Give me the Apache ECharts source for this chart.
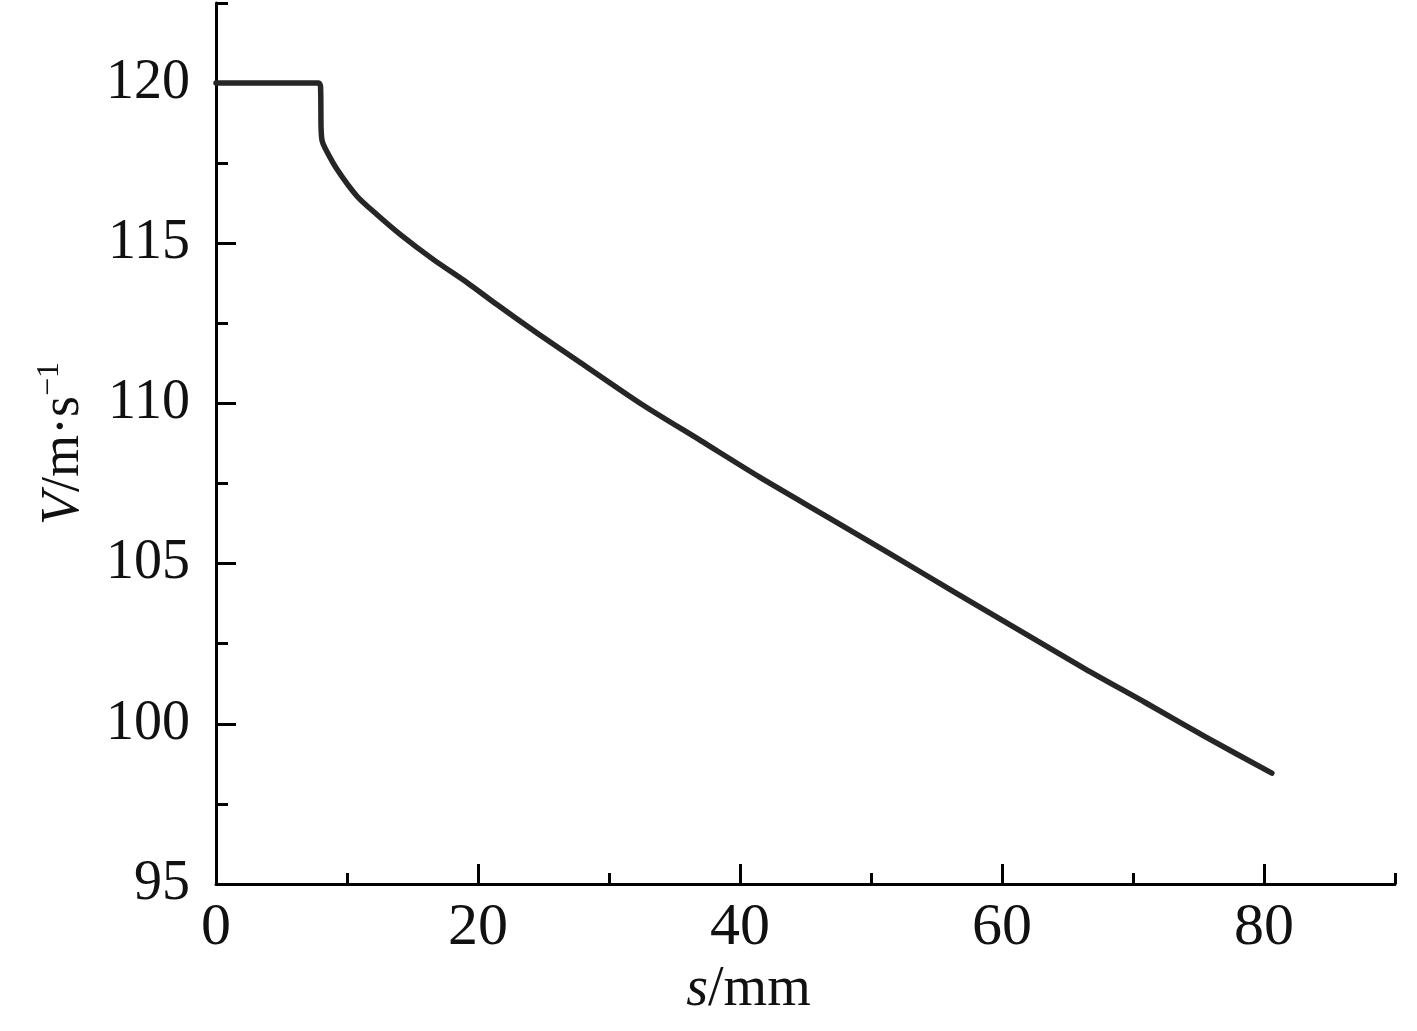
<!DOCTYPE html>
<html>
<head>
<meta charset="utf-8">
<script src="https://cdn.jsdelivr.net/npm/echarts@6/dist/echarts.min.js"></script>
<style>
html,body{margin:0;padding:0;background:#fff;}
#chart{width:1417px;height:1031px;}
</style>
</head>
<body>
<div id="chart"></div>
<script>
// s (mm)
const sValues = [0, 4, 7.85, 7.98, 8.02, 8.1, 8.35, 9.25, 10.78, 12.3, 14.08, 16.6, 19.18, 21.47, 24.5, 27.8, 32.4, 37.0, 41.5, 46.5, 51.5, 56.4, 61.4, 66.4, 71.0, 75.5, 80.6];
// V (m/s)
const vValues = [120, 120, 120, 119.9, 118.6, 118.2, 117.95, 117.3, 116.46, 115.89, 115.27, 114.49, 113.77, 113.08, 112.2, 111.28, 110.0, 108.84, 107.7, 106.5, 105.3, 104.1, 102.9, 101.7, 100.65, 99.6, 98.46];
const xMajorTicks = [0, 20, 40, 60, 80];
const yMajorTicks = [95, 100, 105, 110, 115, 120];

const data = sValues.map((s, i) => [s, vValues[i]]);
const FONT = '"Liberation Serif", "Times New Roman", serif';
const chart = echarts.init(document.getElementById('chart'));
chart.setOption({
  backgroundColor: '#ffffff',
  animation: false,
  grid: [
    {left: 216, right: 22, top: 3, bottom: 147},
    {left: 216, right: 153, top: 83, bottom: 147}
  ],
  xAxis: [
    {
      gridIndex: 0, type: 'value', min: 0, max: 90, interval: 10,
      axisLine: {show: true, onZero: false, lineStyle: {color: '#000', width: 3}},
      axisTick: {show: true, inside: true, length: 11, lineStyle: {color: '#000', width: 3}},
      axisLabel: {show: false}, splitLine: {show: false},
      name: '{i|s}/mm', nameLocation: 'middle', nameGap: 78,
      nameTextStyle: {
        fontFamily: FONT, fontSize: 56, color: '#111', padding: [0, 114, 0, 0],
        rich: {
          i: {fontFamily: FONT, fontSize: 56, fontStyle: 'italic', color: '#111'}
        }
      }
    },
    {
      gridIndex: 1, type: 'value', min: 0, max: 80, interval: 20,
      axisLine: {show: false, onZero: false},
      axisTick: {show: true, inside: true, length: 20, lineStyle: {color: '#000', width: 3}},
      axisLabel: {show: true, fontFamily: FONT, fontSize: 60, color: '#111', margin: 14,
        formatter: v => xMajorTicks.includes(v) ? String(v) : ''},
      splitLine: {show: false}
    }
  ],
  yAxis: [
    {
      gridIndex: 0, type: 'value', min: 95, max: 122.5, interval: 2.5,
      axisLine: {show: true, onZero: false, lineStyle: {color: '#000', width: 3}},
      axisTick: {show: true, inside: true, length: 12, lineStyle: {color: '#000', width: 3}},
      axisLabel: {show: false}, splitLine: {show: false},
      name: '{i|V}/m·s{sup|−1}', nameLocation: 'middle', nameGap: 122, nameRotate: 90,
      nameTextStyle: {
        fontFamily: FONT, fontSize: 54, color: '#111',
        rich: {
          i: {fontFamily: FONT, fontSize: 54, fontStyle: 'italic', color: '#111'},
          sup: {fontFamily: FONT, fontSize: 32, color: '#111', padding: [0, 0, 28, 0]}
        }
      }
    },
    {
      gridIndex: 1, type: 'value', min: 95, max: 120, interval: 5,
      axisLine: {show: false, onZero: false},
      axisTick: {show: true, inside: true, length: 20, lineStyle: {color: '#000', width: 3}},
      axisLabel: {show: true, fontFamily: FONT, fontSize: 56, color: '#111', margin: 26,
        formatter: v => yMajorTicks.includes(v) ? String(v) : ''},
      splitLine: {show: false}
    }
  ],
  series: [{
    type: 'line', xAxisIndex: 0, yAxisIndex: 0, data: data,
    showSymbol: false, smooth: 0.25,
    lineStyle: {color: '#262626', width: 5.5, cap: 'round', join: 'round'}
  }]
});
</script>
</body>
</html>
